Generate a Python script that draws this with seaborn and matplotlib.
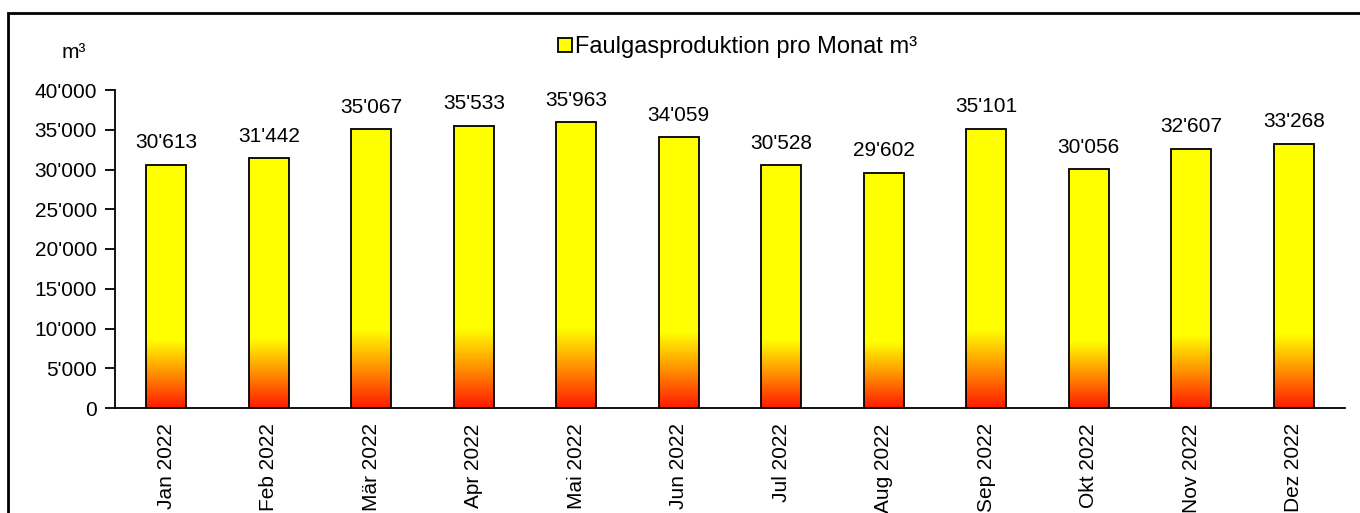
import numpy as np
import pandas as pd
import matplotlib
matplotlib.use("Agg")
import matplotlib.pyplot as plt
from matplotlib.colors import LinearSegmentedColormap
from matplotlib.patches import Rectangle
from matplotlib.lines import Line2D
import seaborn as sns

months = ["Jan 2022", "Feb 2022", "Mär 2022", "Apr 2022", "Mai 2022", "Jun 2022",
          "Jul 2022", "Aug 2022", "Sep 2022", "Okt 2022", "Nov 2022", "Dez 2022"]
gas_m3 = [30613, 31442, 35067, 35533, 35963, 34059,
          30528, 29602, 35101, 30056, 32607, 33268]
y_ticks = [0, 5000, 10000, 15000, 20000, 25000, 30000, 35000, 40000]
series_name = "Faulgasproduktion pro Monat m³"
unit_label = "m³"


def swiss(v):
    return f"{int(round(v)):,}".replace(",", "'")


sns.set_theme(style="white")
plt.rcParams["font.family"] = ["Liberation Sans", "DejaVu Sans"]
plt.rcParams["text.color"] = "black"
plt.rcParams["xtick.color"] = "black"
plt.rcParams["ytick.color"] = "black"

FS = 15

df = pd.DataFrame({"Monat": months, "m3": gas_m3})

fig = plt.figure(figsize=(13.6, 5.13), dpi=100)
ax = fig.add_axes([115 / 1360, 1 - 408 / 513, 1230 / 1360, 318 / 513])

sns.barplot(data=df, x="Monat", y="m3", color="#FFFF00", width=0.39,
            edgecolor="black", linewidth=1.3, saturation=1, ax=ax, zorder=3)

# red -> orange -> yellow fill at the foot of each bar
fire = LinearSegmentedColormap.from_list(
    "fire", [(0.0, "#FF1A00"), (0.14, "#FF9000"), (0.28, "#FFFF00"), (1.0, "#FFFF00")])
grad = np.linspace(0, 1, 256).reshape(-1, 1)
for p in list(ax.patches):
    x0, w, h = p.get_x(), p.get_width(), p.get_height()
    im = ax.imshow(grad, cmap=fire, origin="lower", aspect="auto",
                   extent=[x0, x0 + w, 0, h], zorder=2.9, interpolation="bilinear")
    im.set_clip_path(p)
    p.set_facecolor("none")
    ax.annotate(swiss(h), (x0 + w / 2, h), xytext=(0, 9), textcoords="offset points",
                ha="center", va="bottom", fontsize=FS, color="black")

ax.set_xlim(-0.5, len(months) - 0.5)
ax.set_ylim(0, 40000)
ax.set_yticks(y_ticks)
ax.set_yticklabels([swiss(v) for v in y_ticks], fontsize=FS)
ax.set_xticks(range(len(months)))
ax.set_xticklabels(months, rotation=90, fontsize=FS)
ax.set_xticks(np.arange(-0.5, len(months), 1.0), minor=True)
ax.tick_params(axis="x", which="major", length=0, pad=11)
ax.tick_params(axis="x", which="minor", length=7, width=1.3, color="black", direction="out")
ax.tick_params(axis="y", which="major", length=7, width=1.3, color="black", direction="out",
               left=True, pad=6)
ax.set_xlabel("")
ax.set_ylabel("")
for s in ["top", "right"]:
    ax.spines[s].set_visible(False)
for s in ["left", "bottom"]:
    ax.spines[s].set_color("black")
    ax.spines[s].set_linewidth(1.3)
ax.grid(False)

handle = Line2D([], [], marker="s", linestyle="none", markersize=10,
                markerfacecolor="#FFFF00", markeredgecolor="black", markeredgewidth=1.3)
fig.legend([handle], [series_name], loc="center", bbox_to_anchor=(737 / 1360, 1 - 47 / 513),
           frameon=False, fontsize=17, handletextpad=0.1, handlelength=0.7)

fig.text(74 / 1360, 1 - 53 / 513, unit_label, ha="center", va="center", fontsize=FS)

# chart frame
fig.patches.append(Rectangle((8 / 1360, -0.1), 1.2, 1 - 13 / 513 + 0.1,
                             transform=fig.transFigure, fill=False,
                             edgecolor="black", linewidth=2))

fig.savefig("out.png", dpi=100)
